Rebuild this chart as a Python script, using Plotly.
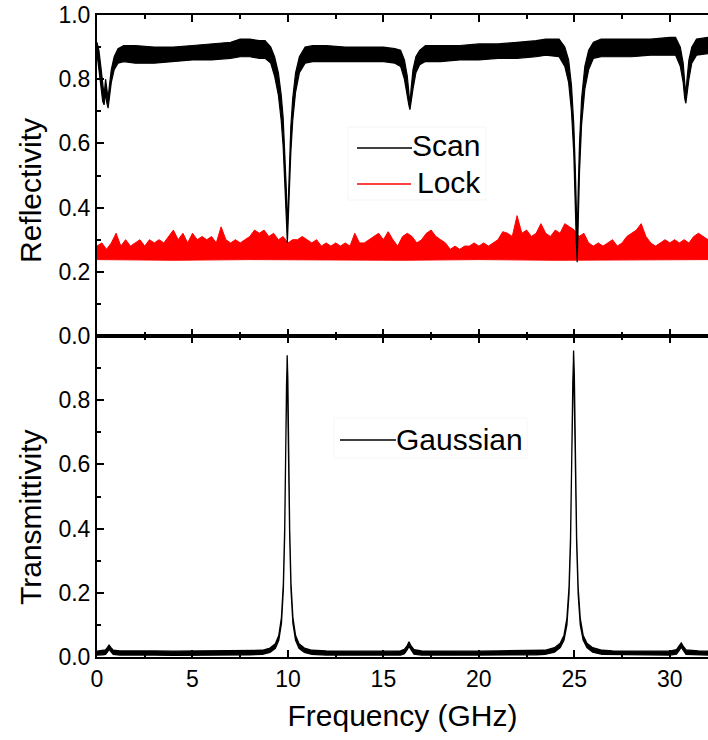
import plotly.graph_objects as go

# ---------------- data ----------------
# Reflectivity, "Scan": upper / lower envelope of the noisy trace
scan_x = [0, 0.1, 0.2, 0.3, 0.37, 0.45, 0.5, 0.58, 0.65, 0.75, 0.9, 1.1, 1.4,
          2, 3, 4, 5, 6, 7, 7.5, 8, 8.5,
          8.8, 9.1, 9.3, 9.5, 9.65, 9.75, 9.85, 9.92, 9.97, 10.02, 10.08, 10.15, 10.25, 10.4, 10.6, 10.9, 11.3,
          12, 13, 14, 15, 15.6,
          15.9, 16.1, 16.25, 16.33, 16.39, 16.45, 16.55, 16.7, 16.9, 17.2,
          18, 19, 20, 21, 22, 23, 23.5, 24.2,
          24.5, 24.7, 24.85, 24.97, 25.05, 25.1, 25.15, 25.2, 25.27, 25.38, 25.55, 25.75, 26.0, 26.4,
          27, 28, 29, 30, 30.3,
          30.55, 30.7, 30.78, 30.84, 30.9, 31.0, 31.15, 31.4, 32]
scan_hi = [0.915, 0.89, 0.84, 0.78, 0.75, 0.80, 0.78, 0.74, 0.78, 0.83, 0.87, 0.895, 0.905,
           0.905, 0.90, 0.90, 0.905, 0.91, 0.915, 0.925, 0.925, 0.92,
           0.92, 0.90, 0.87, 0.82, 0.75, 0.68, 0.57, 0.45, 0.33, 0.42, 0.54, 0.65, 0.74, 0.82, 0.87, 0.90, 0.905,
           0.905, 0.90, 0.90, 0.90, 0.895,
           0.89, 0.86, 0.81, 0.76, 0.72, 0.77, 0.83, 0.87, 0.89, 0.905,
           0.905, 0.905, 0.91, 0.91, 0.915, 0.92, 0.925, 0.925,
           0.90, 0.86, 0.78, 0.66, 0.52, 0.40, 0.30, 0.45, 0.60, 0.74, 0.84, 0.89, 0.915, 0.925,
           0.925, 0.925, 0.925, 0.93, 0.93,
           0.90, 0.85, 0.79, 0.75, 0.80, 0.86, 0.90, 0.925, 0.93]
scan_lo = [0.88, 0.84, 0.78, 0.73, 0.72, 0.76, 0.73, 0.71, 0.73, 0.79, 0.83, 0.85, 0.855,
           0.85, 0.85, 0.855, 0.86, 0.86, 0.865, 0.87, 0.87, 0.865,
           0.865, 0.85, 0.81, 0.75, 0.67, 0.59, 0.47, 0.36, 0.29, 0.33, 0.45, 0.57, 0.67, 0.76, 0.82, 0.85, 0.855,
           0.855, 0.855, 0.855, 0.855, 0.85,
           0.84, 0.80, 0.75, 0.72, 0.705, 0.72, 0.77, 0.82, 0.845, 0.855,
           0.855, 0.86, 0.86, 0.865, 0.865, 0.87, 0.875, 0.87,
           0.84, 0.79, 0.70, 0.57, 0.42, 0.30, 0.23, 0.34, 0.51, 0.66, 0.77, 0.83, 0.865, 0.87,
           0.87, 0.87, 0.875, 0.875, 0.875,
           0.84, 0.79, 0.74, 0.725, 0.74, 0.80, 0.85, 0.875, 0.88]

# Reflectivity, "Lock": spiky upper edge every 0.25 GHz, flat lower edge
lock_x = [round(0.25 * i, 2) for i in range(129)]
lock_hi = [0.28, 0.29, 0.27, 0.29, 0.32, 0.28, 0.30, 0.28,
           0.29, 0.30, 0.28, 0.30, 0.29, 0.30, 0.29, 0.31,
           0.33, 0.30, 0.32, 0.29, 0.32, 0.30, 0.31, 0.30,
           0.31, 0.29, 0.34, 0.30, 0.29, 0.30, 0.29, 0.30,
           0.31, 0.33, 0.32, 0.33, 0.31, 0.32, 0.30, 0.31,
           0.29, 0.30, 0.30, 0.31, 0.30, 0.29, 0.30, 0.28,
           0.29, 0.28, 0.29, 0.28, 0.29, 0.28, 0.32, 0.29,
           0.29, 0.30, 0.31, 0.32, 0.30, 0.325, 0.30, 0.28,
           0.31, 0.32, 0.31, 0.29, 0.30, 0.32, 0.33, 0.31,
           0.30, 0.29, 0.27, 0.28, 0.27, 0.28, 0.28, 0.29,
           0.28, 0.29, 0.28, 0.29, 0.30, 0.325, 0.32, 0.31,
           0.375, 0.32, 0.33, 0.31, 0.32, 0.35, 0.32, 0.31,
           0.33, 0.32, 0.35, 0.34, 0.33, 0.31, 0.32, 0.29,
           0.28, 0.29, 0.28, 0.29, 0.30, 0.28, 0.29, 0.31,
           0.32, 0.33, 0.35, 0.31, 0.29, 0.28, 0.29, 0.30,
           0.29, 0.30, 0.29, 0.30, 0.29, 0.31, 0.32, 0.31, 0.30]
lock_lo_x = [0, 4, 8, 12, 16, 20, 24, 28, 32]
lock_lo = [0.238, 0.236, 0.238, 0.237, 0.236, 0.238, 0.236, 0.237, 0.238]

# Transmittivity, "Gaussian": upper / lower envelope
trans_x = [0, 0.3, 0.45, 0.55, 0.63, 0.72, 0.85, 1.2, 2, 3, 4, 5, 6, 7, 8,
           8.66, 9.06, 9.34, 9.52, 9.66, 9.76, 9.83, 9.885, 9.925, 9.96, 9.995, 10.035, 10.09, 10.16, 10.26, 10.40, 10.58, 10.86, 11.26,
           12, 13, 14, 15, 15.9, 16.1, 16.24, 16.34, 16.44, 16.6, 17,
           18, 19, 20, 21, 22, 23,
           23.46, 23.96, 24.26, 24.46, 24.61, 24.72, 24.80, 24.87, 24.92, 24.96, 25.00, 25.05, 25.12, 25.20, 25.31, 25.46, 25.66, 25.96, 26.46,
           27, 28, 29, 30, 30.35, 30.5, 30.6, 30.7, 30.85, 31.5, 32]
trans_hi = [0.018, 0.02, 0.022, 0.03, 0.037, 0.03, 0.021, 0.019, 0.018, 0.019, 0.018, 0.019, 0.018, 0.019, 0.02,
            0.021, 0.028, 0.041, 0.067, 0.123, 0.23, 0.40, 0.65, 0.866, 0.94, 0.866, 0.65, 0.40, 0.23, 0.123, 0.067, 0.041, 0.028, 0.021,
            0.019, 0.018, 0.019, 0.018, 0.019, 0.024, 0.035, 0.047, 0.035, 0.023, 0.019,
            0.018, 0.019, 0.018, 0.019, 0.019, 0.02,
            0.021, 0.029, 0.043, 0.068, 0.12, 0.216, 0.374, 0.64, 0.878, 0.955, 0.878, 0.64, 0.374, 0.216, 0.12, 0.068, 0.043, 0.029, 0.021,
            0.019, 0.018, 0.019, 0.018, 0.023, 0.034, 0.044, 0.034, 0.022, 0.019, 0.018]
trans_lo = [0.006, 0.007, 0.008, 0.016, 0.024, 0.016, 0.008, 0.006, 0.005, 0.006, 0.005, 0.006, 0.006, 0.006, 0.007,
            0.008, 0.014, 0.027, 0.052, 0.105, 0.21, 0.38, 0.63, 0.845, 0.925, 0.845, 0.63, 0.38, 0.21, 0.105, 0.052, 0.027, 0.014, 0.008,
            0.006, 0.005, 0.006, 0.006, 0.006, 0.010, 0.022, 0.033, 0.022, 0.009, 0.006,
            0.005, 0.006, 0.006, 0.006, 0.006, 0.007,
            0.008, 0.015, 0.029, 0.053, 0.10, 0.196, 0.354, 0.62, 0.857, 0.94, 0.857, 0.62, 0.354, 0.196, 0.10, 0.053, 0.029, 0.015, 0.008,
            0.006, 0.006, 0.006, 0.006, 0.009, 0.021, 0.031, 0.021, 0.008, 0.006, 0.006]

x_ticks = [0, 5, 10, 15, 20, 25, 30]
refl_ticks = [0.0, 0.2, 0.4, 0.6, 0.8, 1.0]
trans_ticks = [0.0, 0.2, 0.4, 0.6, 0.8]
minor_y = [0.1, 0.3, 0.5, 0.7, 0.9]

# ---------------- figure ----------------
FONT = "Arial, 'Liberation Sans', sans-serif"
W, H = 708, 740
ML, MR, MT, MB = 97, 0, 15, 83
PW, PH = W - ML - MR, H - MT - MB


def px(xp):
    return (xp - ML) / PW


def py(yp):
    return (H - MB - yp) / PH


fig = go.Figure()

fig.add_trace(go.Scatter(
    x=lock_x + lock_lo_x[::-1], y=lock_hi + lock_lo[::-1],
    fill='toself', fillcolor='#ff0000', mode='lines',
    line=dict(color='#ff0000', width=1), name='Lock', showlegend=False,
    xaxis='x', yaxis='y'))
fig.add_trace(go.Scatter(
    x=scan_x + scan_x[::-1], y=scan_hi + scan_lo[::-1],
    fill='toself', fillcolor='#000000', mode='lines',
    line=dict(color='#000000', width=1.2), name='Scan', showlegend=False,
    xaxis='x', yaxis='y'))
fig.add_trace(go.Scatter(
    x=trans_x + trans_x[::-1], y=trans_hi + trans_lo[::-1],
    fill='toself', fillcolor='#000000', mode='lines',
    line=dict(color='#000000', width=1.3), name='Gaussian', showlegend=False,
    xaxis='x2', yaxis='y2'))

tickfont = dict(family=FONT, size=23, color='black')
xcommon = dict(range=[0, 32], tickmode='array', tickvals=x_ticks,
               ticks='inside', ticklen=7, tickwidth=1.5, tickcolor='black',
               showline=True, linewidth=2, linecolor='black', mirror='ticks',
               showgrid=False, zeroline=False, tickfont=tickfont,
               minor=dict(tickmode='array', tickvals=[2.5, 7.5, 12.5, 17.5, 22.5, 27.5],
                          ticks='inside', ticklen=4, tickwidth=1.5, tickcolor='black', showgrid=False))
ycommon = dict(range=[0, 1], tickmode='array',
               ticks='inside', ticklen=7, tickwidth=1.5, tickcolor='black',
               showline=True, linewidth=2, linecolor='black', mirror=False,
               showgrid=False, zeroline=False, tickfont=tickfont,
               minor=dict(tickmode='array', tickvals=minor_y, ticks='inside', ticklen=4,
                          tickwidth=1.5, tickcolor='black', showgrid=False))

fig.update_layout(
    width=W, height=H, margin=dict(l=ML, r=MR, t=MT, b=MB),
    paper_bgcolor='white', plot_bgcolor='white', showlegend=False,
    font=dict(family=FONT, color='black'),
    xaxis=dict(xcommon, anchor='y', showticklabels=False, matches='x2'),
    yaxis=dict(ycommon, domain=[0.5, 1], anchor='x', tickvals=refl_ticks,
               ticktext=['%.1f' % v for v in refl_ticks]),
    xaxis2=dict(xcommon, anchor='y2',
                title=dict(text='Frequency (GHz)', font=dict(family=FONT, size=30), standoff=14)),
    yaxis2=dict(ycommon, domain=[0, 0.5], anchor='x2', tickvals=trans_ticks,
                ticktext=['%.1f' % v for v in trans_ticks]),
)

# y-axis titles
fig.add_annotation(text='Reflectivity', xref='paper', yref='paper', x=px(30), y=py(191),
                   textangle=-90, showarrow=False, xanchor='center', yanchor='middle',
                   font=dict(family=FONT, size=30, color='black'))
fig.add_annotation(text='Transmittivity', xref='paper', yref='paper', x=px(30), y=py(517),
                   textangle=-90, showarrow=False, xanchor='center', yanchor='middle',
                   font=dict(family=FONT, size=30, color='black'))

# legends (drawn as line samples + text)
fig.add_shape(type='rect', xref='paper', yref='paper', x0=px(348), x1=px(486), y0=py(200), y1=py(127),
              line=dict(color='#f5f5f5', width=1), fillcolor='rgba(0,0,0,0)', layer='below')
fig.add_shape(type='rect', xref='paper', yref='paper', x0=px(334), x1=px(527), y0=py(458), y1=py(418),
              line=dict(color='#f6f6f6', width=1), fillcolor='rgba(0,0,0,0)', layer='below')
legend_items = [('Scan', '#000000', 357, 412, 148, 410, 146),
                ('Lock', '#ff0000', 357, 411, 184, 415, 182.5),
                ('Gaussian', '#000000', 340, 396, 440, 394, 439)]
for name, col, x0, x1, yl, xt, yt in legend_items:
    fig.add_shape(type='line', xref='paper', yref='paper', x0=px(x0), x1=px(x1), y0=py(yl), y1=py(yl),
                  line=dict(color=col, width=1.6))
    fig.add_annotation(text=name, xref='paper', yref='paper', x=px(xt), y=py(yt), showarrow=False,
                       xanchor='left', yanchor='middle', font=dict(family=FONT, size=30, color='black'))

fig.write_html("out.html", config={'displayModeBar': False},
               post_script="document.body.style.margin='0px';document.body.style.overflow='hidden';")
